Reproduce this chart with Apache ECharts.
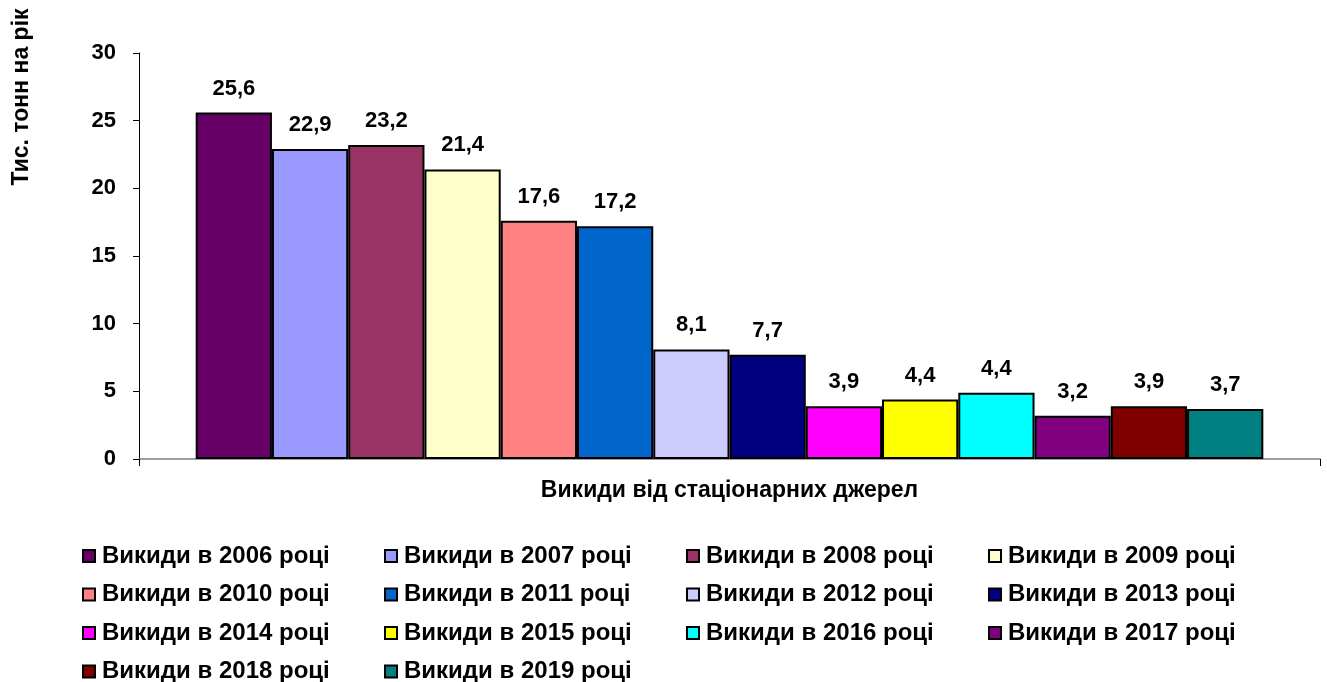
<!DOCTYPE html>
<html>
<head>
    <meta charset="utf-8">
    <title>Викиди від стаціонарних джерел</title>
    <script src="https://cdn.jsdelivr.net/npm/echarts@6/dist/echarts.min.js"></script>
    <style>
        html, body { margin: 0; padding: 0; background: #fff; }
        #main { width: 1327px; height: 682px; }
    </style>
</head>
<body>
    <div id="main"></div>
    <script type="text/javascript">
        // дані
        var category = ['Викиди від стаціонарних джерел'];
        var years = ['2006', '2007', '2008', '2009', '2010', '2011', '2012',
                     '2013', '2014', '2015', '2016', '2017', '2018', '2019'];
        var values = [25.6, 22.9, 23.2, 21.4, 17.6, 17.2, 8.1, 7.7, 3.9, 4.4, 4.9, 3.2, 3.9, 3.7];
        var labelText = ['25,6', '22,9', '23,2', '21,4', '17,6', '17,2', '8,1', '7,7',
                         '3,9', '4,4', '4,4', '3,2', '3,9', '3,7'];
        var colors = ['#660066', '#9999FF', '#993366', '#FFFFCC', '#FF8080', '#0066CC', '#CCCCFF',
                      '#000080', '#FF00FF', '#FFFF00', '#00FFFF', '#800080', '#800000', '#008080'];
        var yTicks = [0, 5, 10, 15, 20, 25, 30];

        var font = '"Liberation Sans", Arial, sans-serif';
        var names = years.map(function (y) { return 'Викиди в ' + y + ' році'; });

        var series = names.map(function (n, i) {
            return {
                name: n,
                type: 'bar',
                data: [values[i]],
                barGap: '0%',
                barCategoryGap: '9.6%',
                itemStyle: { color: colors[i], borderColor: '#000', borderWidth: 2 },
                label: {
                    show: true,
                    position: 'top',
                    distance: 13,
                    formatter: function () { return labelText[i]; },
                    fontFamily: font, fontWeight: 'bold', fontSize: 22, color: '#000'
                },
                animation: false
            };
        });

        // легенда: 4 колонки
        var legends = [];
        for (var c = 0; c < 4; c++) {
            var d = [];
            for (var k = c; k < names.length; k += 4) d.push(names[k]);
            legends.push({
                orient: 'vertical',
                left: 82 + c * 302,
                top: 544,
                height: 170,
                itemWidth: 12,
                itemHeight: 12,
                itemGap: 14.5,
                icon: 'rect',
                padding: 0,
                selectedMode: false,
                textStyle: { fontFamily: font, fontWeight: 'bold', fontSize: 24, color: '#000', lineHeight: 24, padding: [0, 0, 0, 2] },
                data: d
            });
        }

        var myChart = echarts.init(document.getElementById('main'));
        myChart.setOption({
            animation: false,
            grid: { left: 139, right: 7, top: 53, bottom: 223, containLabel: false },
            legend: legends,
            xAxis: {
                type: 'category',
                data: category,
                axisLine: { lineStyle: { color: '#808080', width: 1.5 } },
                axisTick: { show: true, length: 7, lineStyle: { color: '#000' } },
                axisLabel: { margin: 20, fontFamily: font, fontWeight: 'bold', fontSize: 23, color: '#000' }
            },
            yAxis: {
                type: 'value',
                min: yTicks[0],
                max: yTicks[yTicks.length - 1],
                interval: 5,
                axisLine: { show: true, lineStyle: { color: '#000', width: 1 } },
                axisTick: { show: true, inside: false, length: 6, lineStyle: { color: '#000' } },
                splitLine: { show: false },
                axisLabel: { margin: 23, fontFamily: font, fontWeight: 'bold', fontSize: 22, color: '#000' }
            },
            graphic: [{
                type: 'text',
                x: 22,
                y: 97,
                rotation: Math.PI / 2,
                style: {
                    text: 'Тис. тонн на рік',
                    fontFamily: font, fontWeight: 'bold', fontSize: 23, fill: '#000',
                    align: 'center', verticalAlign: 'middle'
                }
            }],
            series: series
        });
    </script>
</body>
</html>
